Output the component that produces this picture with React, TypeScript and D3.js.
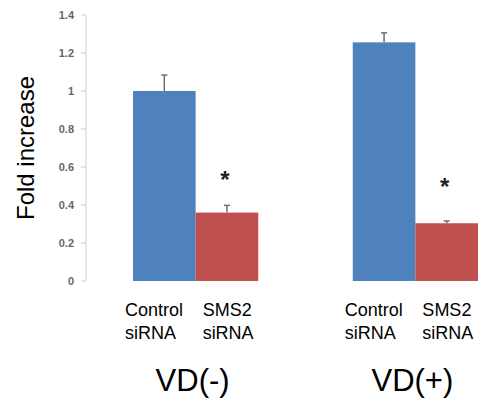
import React, { useEffect, useRef } from "react";
import * as d3 from "d3";

const groups = ["VD(-)", "VD(+)"];
const treatments = ["Control siRNA", "SMS2 siRNA"];
const means = [
  [1.0, 0.36],
  [1.256, 0.304],
];
const errors = [
  [0.084, 0.038],
  [0.05, 0.012],
];
// significance marks above the SMS2 bars (y value of the star centre)
const starAt = [0.56, 0.52];
const yTicks = [0, 0.2, 0.4, 0.6, 0.8, 1, 1.2, 1.4];
const colors = ["#4f81bd", "#c0504d"];

const W = 485;
const H = 399;

const App = () => {
  const ref = useRef<SVGSVGElement | null>(null);

  useEffect(() => {
    const svg = d3.select(ref.current);
    svg.selectAll("*").remove();

    const y = d3.scaleLinear().domain([0, 1.4]).range([281, 15]);
    const x0 = d3.scaleBand<string>().domain(groups).range([133, 478]).paddingInner(0.43).paddingOuter(0);
    const x1 = d3.scaleBand<string>().domain(treatments).range([0, x0.bandwidth()]).padding(0);

    // y axis
    const axis = svg.append("g").attr("transform", "translate(86,0)");
    axis
      .append("line")
      .attr("y1", y(0))
      .attr("y2", y(1.4))
      .attr("stroke", "#d0d0d0")
      .attr("stroke-width", 1);
    const tick = axis
      .selectAll(".tick")
      .data(yTicks)
      .enter()
      .append("g")
      .attr("transform", (d) => `translate(0,${y(d)})`);
    tick.append("line").attr("x1", -5).attr("x2", 0).attr("stroke", "#d0d0d0");
    tick
      .append("text")
      .attr("x", -12)
      .attr("dy", "0.35em")
      .attr("text-anchor", "end")
      .attr("font-family", "Liberation Sans, Arial, sans-serif")
      .attr("font-size", 11)
      .attr("font-weight", "bold")
      .attr("fill", "#666")
      .text((d) => String(d));

    svg
      .append("text")
      .attr("transform", `translate(34,148) rotate(-90)`)
      .attr("text-anchor", "middle")
      .attr("font-family", "Liberation Sans, Arial, sans-serif")
      .attr("font-size", 24)
      .attr("fill", "#000")
      .text("Fold increase");

    groups.forEach((g, gi) => {
      const gx = x0(g) as number;
      const grp = svg.append("g").attr("transform", `translate(${gx},0)`);

      grp
        .selectAll("rect")
        .data(treatments)
        .enter()
        .append("rect")
        .attr("x", (t) => x1(t) as number)
        .attr("y", (t, i) => y(means[gi][i]))
        .attr("width", x1.bandwidth())
        .attr("height", (t, i) => y(0) - y(means[gi][i]))
        .attr("fill", (t, i) => colors[i]);

      // error bars
      treatments.forEach((t, i) => {
        const cx = (x1(t) as number) + x1.bandwidth() / 2;
        const top = y(means[gi][i] + errors[gi][i]);
        grp
          .append("line")
          .attr("x1", cx)
          .attr("x2", cx)
          .attr("y1", y(means[gi][i]))
          .attr("y2", top)
          .attr("stroke", "#707070")
          .attr("stroke-width", 1.5);
        grp
          .append("line")
          .attr("x1", cx - 3)
          .attr("x2", cx + 3)
          .attr("y1", top)
          .attr("y2", top)
          .attr("stroke", "#707070")
          .attr("stroke-width", 1.5);
      });

      // star over SMS2 bar
      grp
        .append("text")
        .attr("x", (x1(treatments[1]) as number) + x1.bandwidth() / 2 - 2)
        .attr("y", y(starAt[gi]) + 13)
        .attr("text-anchor", "middle")
        .attr("font-family", "Liberation Sans, Arial, sans-serif")
        .attr("font-size", 24)
        .attr("font-weight", "bold")
        .attr("fill", "#222")
        .text("*");

      // treatment labels
      treatments.forEach((t, i) => {
        const lx = (x1(t) as number) + (i === 0 ? -8 : 7);
        const words = t.split(" ");
        const txt = grp
          .append("text")
          .attr("font-family", "Liberation Sans, Arial, sans-serif")
          .attr("font-size", 18)
          .attr("fill", "#000");
        words.forEach((w, wi) => {
          txt
            .append("tspan")
            .attr("x", lx)
            .attr("y", 316 + wi * 23)
            .text(w);
        });
      });

      grp
        .append("text")
        .attr("x", x0.bandwidth() / 2 - 3)
        .attr("y", 391)
        .attr("text-anchor", "middle")
        .attr("font-family", "Liberation Sans, Arial, sans-serif")
        .attr("font-size", 31)
        .attr("fill", "#000")
        .text(g);
    });
  }, []);

  return (
    <div style={{ position: "absolute", left: 0, top: 0 }}>
      <svg ref={ref} width={W} height={H} style={{ display: "block", background: "#fff" }} />
    </div>
  );
};

export default App;
